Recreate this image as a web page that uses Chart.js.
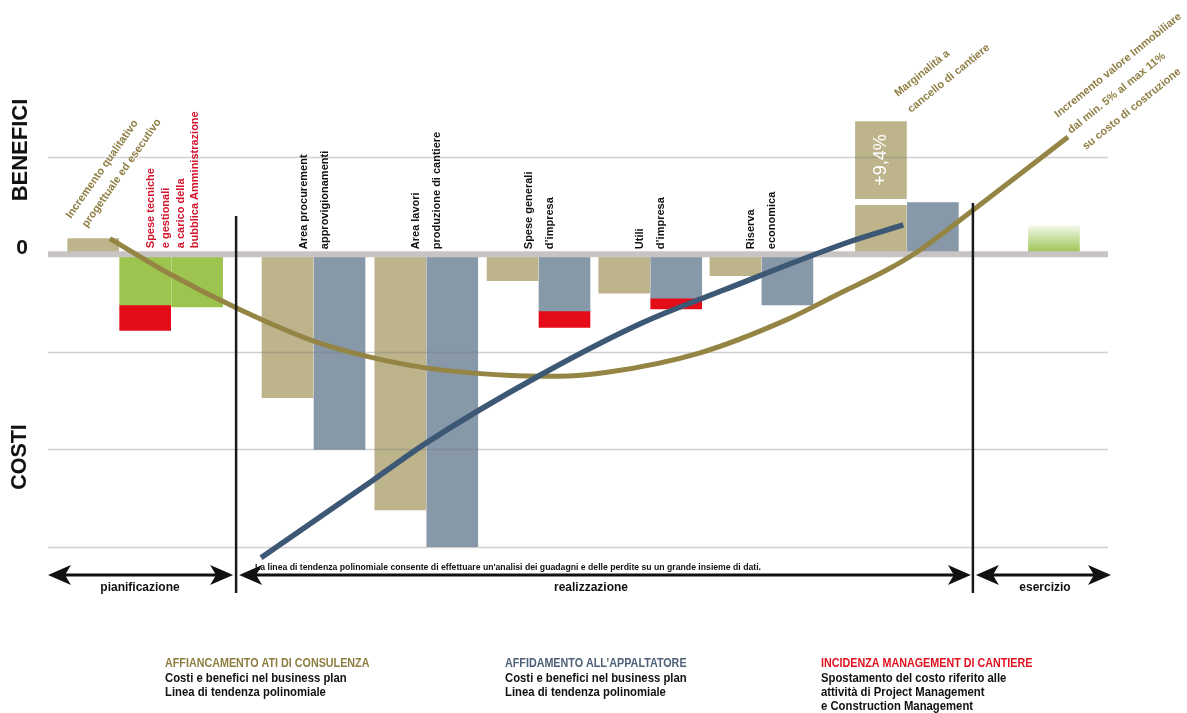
<!DOCTYPE html>
<html lang="it">
<head>
<meta charset="utf-8">
<title>Costi e benefici</title>
<script src="https://cdn.jsdelivr.net/npm/chart.js@4.4.1/dist/chart.umd.min.js"></script>
<style>
  html, body { margin: 0; padding: 0; background: #fff; }
  canvas { display: block; }
</style>
</head>
<body>
<canvas id="grafico" width="1187" height="713"></canvas>
<script>
// asse x: posizione lungo il processo (1 unità = larghezza di una barra)
// asse y: benefici (+) / costi (-)

// affiancamento ATI di consulenza (barre tortora)
const consulenzaX = [0.87, 4.61, 6.78, 8.94, 11.09, 13.23, 16.03];
const consulenza = [0.16, -1.47, -2.62, -0.27, -0.40, -0.22, 0.50];
// marginalità a cancello di cantiere (+9,4%)
const marginalitaX = [16.03];
const marginalita = [[0.57, 1.36]];

// affidamento all'appaltatore (barre grigio-blu)
const appaltatoreX = [5.61, 7.78, 9.94, 12.09, 14.23, 17.03];
const appaltatore = [-2.0, -3.0, -0.58, -0.45, -0.52, 0.53];

// spese tecniche a carico della pubblica amministrazione
const amministrazioneX = [1.87, 2.87];
const amministrazione = [-0.52, -0.54];

// incidenza management di cantiere
const managementX = [1.87, 9.94, 12.09];
const management = [[-0.52, -0.78], [-0.58, -0.75], [-0.45, -0.56]];

// esercizio: incremento valore immobiliare
const esercizioX = [19.36];
const esercizio = [0.29];

// linee di tendenza polinomiale
const trendConsulenzaX = [1.19, 2.37, 3.70, 5.06, 6.16, 7.33, 8.83, 9.80, 10.76, 12.55, 14.22, 15.24, 16.15, 16.72, 17.80, 19.63];
const trendConsulenza = [0.16, -0.21, -0.57, -0.88, -1.05, -1.17, -1.24, -1.25, -1.21, -1.01, -0.67, -0.40, -0.16, 0.02, 0.45, 1.20];
const trendAppaltatoreX = [4.10, 6.27, 7.29, 9.47, 11.45, 12.99, 15.44, 16.46];
const trendAppaltatore = [-3.11, -2.31, -1.93, -1.24, -0.70, -0.37, 0.13, 0.30];

// etichette
const vociFasi = [
  ['Area procurement', 'approvigionamenti'],
  ['Area lavori', 'produzione di cantiere'],
  ['Spese generali', 'd\u2019impresa'],
  ['Utili', 'd\u2019impresa'],
  ['Riserva', 'economica']
];
const vociAmministrazione = ['Spese tecniche', 'e gestionali', 'a carico della', 'bubblica Amministrazione'];
const fasi = ['pianificazione', 'realizzazione', 'esercizio'];
const separatoriX = [3.62, 17.80];
const gridValori = [-3, -2, -1, 1];

const FONT = '"Liberation Sans", Arial, sans-serif';
const OLIVA = '#948544';
const TORTORA = '#bdb48c';
const GRIGIOBLU = '#8798a9';
const BLU = '#3d5874';
const VERDE = '#9cc44f';
const ROSSO = '#e30c18';

const punti = (xs, ys) => xs.map((x, i) => ({ x: x, y: ys[i] }));

function testo(ctx, str, x, y, o) {
  ctx.save();
  ctx.translate(x, y);
  if (o.angle) ctx.rotate(o.angle * Math.PI / 180);
  if (o.sx) ctx.scale(o.sx, 1);
  ctx.font = o.font;
  ctx.fillStyle = o.color || '#111';
  ctx.textAlign = o.align || 'left';
  ctx.textBaseline = o.baseline || 'alphabetic';
  if (o.maxWidth) ctx.fillText(str, 0, 0, o.maxWidth);
  else ctx.fillText(str, 0, 0);
  ctx.restore();
}

function freccia(ctx, x1, x2, y) {
  ctx.save();
  ctx.strokeStyle = '#111';
  ctx.fillStyle = '#111';
  ctx.lineWidth = 3;
  ctx.beginPath();
  ctx.moveTo(x1 + 12, y);
  ctx.lineTo(x2 - 12, y);
  ctx.stroke();
  [[x1, 1], [x2, -1]].forEach(([x, d]) => {
    ctx.beginPath();
    ctx.moveTo(x, y);
    ctx.lineTo(x + d * 23, y - 10);
    ctx.lineTo(x + d * 17, y);
    ctx.lineTo(x + d * 23, y + 10);
    ctx.closePath();
    ctx.fill();
  });
  ctx.restore();
}

let gridFatta = false;
const decorazioni = {
  id: 'decorazioni',
  beforeDatasetsDraw() { gridFatta = false; },
  beforeDatasetDraw(chart, args) {
    if (gridFatta || args.meta.type !== 'line') return;
    gridFatta = true;
    const { ctx, chartArea: a, scales: { y } } = chart;
    ctx.save();
    ctx.strokeStyle = 'rgba(120,120,120,0.35)';
    ctx.lineWidth = 1.3;
    gridValori.forEach(v => {
      const py = Math.round(y.getPixelForValue(v)) + 0.5;
      ctx.beginPath(); ctx.moveTo(a.left, py); ctx.lineTo(a.right, py); ctx.stroke();
    });
    ctx.strokeStyle = '#c8c4c4';
    ctx.lineWidth = 6;
    const p0 = y.getPixelForValue(0);
    ctx.beginPath(); ctx.moveTo(a.left, p0); ctx.lineTo(a.right, p0); ctx.stroke();
    ctx.restore();
  },
  afterDraw(chart) {
    const { ctx, scales: { x, y } } = chart;
    const p0 = y.getPixelForValue(0);

    // separatori delle fasi
    ctx.save();
    ctx.strokeStyle = '#1a1a1a';
    ctx.lineWidth = 2.5;
    const sx0 = x.getPixelForValue(separatoriX[0]);
    const sx1 = x.getPixelForValue(separatoriX[1]);
    ctx.beginPath(); ctx.moveTo(sx0, 216); ctx.lineTo(sx0, 593); ctx.stroke();
    ctx.beginPath(); ctx.moveTo(sx1, 203); ctx.lineTo(sx1, 593); ctx.stroke();
    ctx.restore();

    // frecce delle fasi
    const ay = 575;
    freccia(ctx, chart.chartArea.left, sx0 - 3, ay);
    freccia(ctx, sx0 + 3, sx1 - 2, ay);
    freccia(ctx, sx1 + 3, chart.chartArea.right + 3, ay);
    const fb = 'bold 12px ' + FONT;
    testo(ctx, fasi[0], 140, 588, { font: fb, align: 'center', baseline: 'middle' });
    testo(ctx, fasi[1], 591, 588, { font: fb, align: 'center', baseline: 'middle' });
    testo(ctx, fasi[2], 1045, 588, { font: fb, align: 'center', baseline: 'middle' });

    testo(ctx, 'La linea di tendenza polinomiale consente di effettuare un\'analisi dei guadagni e delle perdite su un grande insieme di dati.',
      255, 567, { font: 'bold 9.5px ' + FONT, baseline: 'middle', maxWidth: 506 });

    // assi
    testo(ctx, '0', 22, 248, { font: 'bold 21px ' + FONT, align: 'center', baseline: 'middle' });
    testo(ctx, 'BENEFICI', 21, 150, { font: 'bold 22px ' + FONT, align: 'center', baseline: 'middle', angle: -90 });
    testo(ctx, 'COSTI', 20, 457, { font: 'bold 21.5px ' + FONT, align: 'center', baseline: 'middle', angle: -90 });

    // voci delle fasi (verticali)
    const f11 = 'bold 11px ' + FONT;
    vociFasi.forEach((v, i) => {
      const cx = x.getPixelForValue(consulenzaX[i + 1] + 0.5);
      testo(ctx, v[0], cx - 10, p0 - 5, { font: f11, baseline: 'middle', angle: -90 });
      testo(ctx, v[1], cx + 11, p0 - 5, { font: f11, baseline: 'middle', angle: -90 });
    });
    const ax = x.getPixelForValue(amministrazioneX[0]);
    vociAmministrazione.forEach((v, i) => {
      testo(ctx, v, ax + 6 + i * 14.7, p0 - 6, { font: f11, baseline: 'middle', angle: -90, color: '#d3122b' });
    });

    // etichette oblique
    const fo = { font: f11, color: '#8f7f45' };
    testo(ctx, 'Incremento qualitativo', 71, 219, Object.assign({ angle: -55 }, fo));
    testo(ctx, 'progettuale ed esecutivo', 87, 228, Object.assign({ angle: -55 }, fo));
    testo(ctx, 'Marginalità a', 898, 97, Object.assign({ angle: -39 }, fo));
    testo(ctx, 'cancello di cantiere', 911, 113, Object.assign({ angle: -39 }, fo));
    testo(ctx, 'Incremento valore Immobiliare', 1058, 118, Object.assign({ angle: -39 }, fo));
    testo(ctx, 'dal min. 5% al max 11%', 1071, 134, Object.assign({ angle: -39 }, fo));
    testo(ctx, 'su costo di costruzione', 1086, 150, Object.assign({ angle: -39 }, fo));

    // +9,4%
    const mx = x.getPixelForValue(marginalitaX[0]);
    const my = y.getPixelForValue((marginalita[0][0] + marginalita[0][1]) / 2);
    testo(ctx, '+9,4%', mx, my, { font: '18px ' + FONT, color: '#fff', align: 'center', baseline: 'middle', angle: -90 });

    // legenda
    const ft = 'bold 12.5px ' + FONT;
    const fc = 'bold 13px ' + FONT;
    const leg = [
      { x: 165, t: 'AFFIANCAMENTO ATI DI CONSULENZA', c: '#8e7d3f', r: ['Costi e benefici nel business plan', 'Linea di tendenza polinomiale'] },
      { x: 505, t: 'AFFIDAMENTO ALL\u2019APPALTATORE', c: '#4e6079', r: ['Costi e benefici nel business plan', 'Linea di tendenza polinomiale'] },
      { x: 821, t: 'INCIDENZA MANAGEMENT DI CANTIERE', c: '#e3101f', r: ['Spostamento del costo riferito alle', 'attività di Project Management', 'e Construction Management'] }
    ];
    leg.forEach(l => {
      testo(ctx, l.t, l.x, 664, { font: ft, color: l.c, baseline: 'middle', sx: 0.86 });
      l.r.forEach((r, i) => testo(ctx, r, l.x, 678 + i * 14, { font: fc, baseline: 'middle', sx: 0.87 }));
    });
  }
};

new Chart(document.getElementById('grafico'), {
  type: 'bar',
  data: {
    datasets: [
      { label: 'Affiancamento ATI di consulenza', data: punti(consulenzaX, consulenza), backgroundColor: TORTORA, order: 2 },
      { label: 'Marginalità', data: punti(marginalitaX, marginalita), backgroundColor: TORTORA, order: 2 },
      { label: 'Affidamento all\u2019appaltatore', data: punti(appaltatoreX, appaltatore), backgroundColor: GRIGIOBLU, order: 2 },
      { label: 'Spese tecniche', data: punti(amministrazioneX, amministrazione), backgroundColor: VERDE, order: 2 },
      { label: 'Incidenza management di cantiere', data: punti(managementX, management), backgroundColor: ROSSO, order: 2 },
      {
        label: 'Esercizio', data: punti(esercizioX, esercizio), order: 2,
        backgroundColor: c => {
          const ch = c.chart;
          if (!ch.chartArea) return VERDE;
          const y = ch.scales.y;
          const g = ch.ctx.createLinearGradient(0, y.getPixelForValue(esercizio[0]), 0, y.getPixelForValue(0));
          g.addColorStop(0, '#f1f7e6');
          g.addColorStop(1, '#95c24a');
          return g;
        }
      },
      {
        type: 'line', label: 'Tendenza consulenza', data: punti(trendConsulenzaX, trendConsulenza),
        borderColor: OLIVA, borderWidth: 5, pointRadius: 0, cubicInterpolationMode: 'monotone',
        fill: false, clip: false, order: 1, borderCapStyle: 'butt'
      },
      {
        type: 'line', label: 'Tendenza appaltatore', data: punti(trendAppaltatoreX, trendAppaltatore),
        borderColor: BLU, borderWidth: 5.5, pointRadius: 0, cubicInterpolationMode: 'monotone',
        fill: false, clip: false, order: 0, borderCapStyle: 'butt'
      }
    ]
  },
  options: {
    responsive: false,
    animation: false,
    devicePixelRatio: 1,
    layout: { padding: { left: 48, right: 79, top: 59, bottom: 166 } },
    datasets: { bar: { barThickness: 51, grouped: false, borderWidth: 0 } },
    plugins: { legend: { display: false }, tooltip: { enabled: false } },
    scales: {
      x: { type: 'linear', min: 0, max: 20.4, offset: false, display: false },
      y: { min: -3, max: 2, display: false }
    }
  },
  plugins: [decorazioni]
});
</script>
</body>
</html>
